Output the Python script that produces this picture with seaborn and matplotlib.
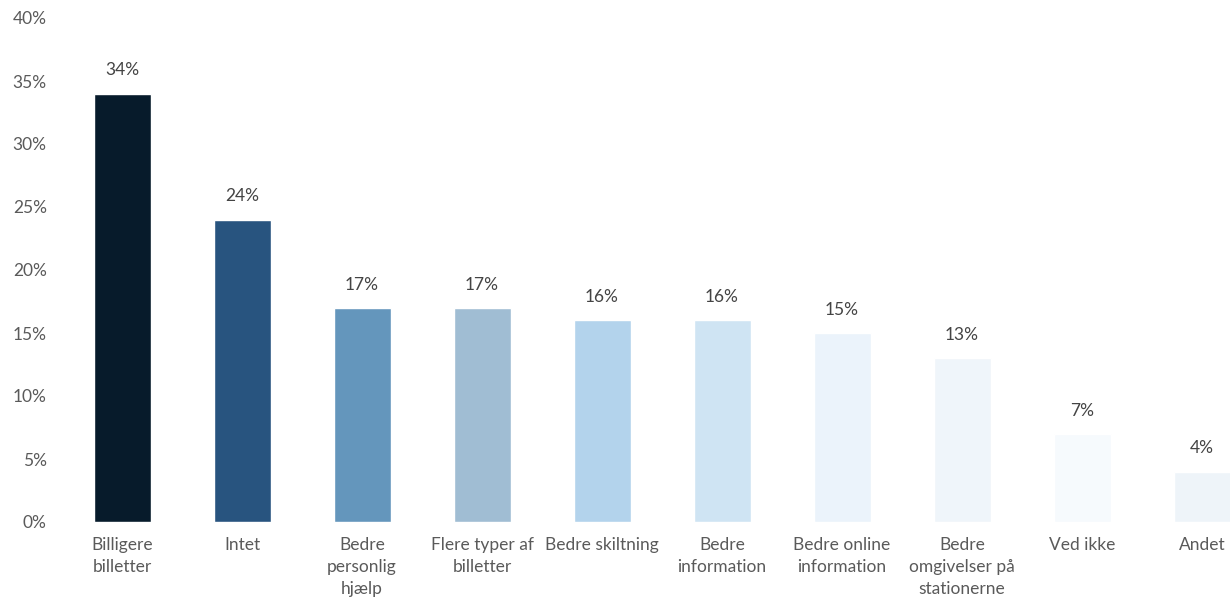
import matplotlib
matplotlib.use("Agg")
import matplotlib.pyplot as plt
import seaborn as sns
import pandas as pd

categories = [
    "Billigere\nbilletter",
    "Intet",
    "Bedre\npersonlig\nhjælp",
    "Flere typer af\nbilletter",
    "Bedre skiltning",
    "Bedre\ninformation",
    "Bedre online\ninformation",
    "Bedre\nomgivelser på\nstationerne",
    "Ved ikke",
    "Andet",
]
values = [34, 24, 17, 17, 16, 16, 15, 13, 7, 4]
bar_colors = [
    "#071b2b", "#28547f", "#6496bc", "#a0bdd3", "#b3d3ec",
    "#cfe4f3", "#ebf3fb", "#eff5fa", "#f6fafd", "#eef4f9",
]
y_ticks = [0, 5, 10, 15, 20, 25, 30, 35, 40]

sns.set_theme(style="white")
plt.rcParams["font.family"] = ["Lato", "DejaVu Sans"]
text_color = "#5a5a5a"

df = pd.DataFrame({"category": categories, "value": values})

fig = plt.figure(figsize=(12.3, 6), dpi=100)
ax = fig.add_axes([62 / 1230, 78 / 600, 1 - 62 / 1230, 504 / 600])

sns.barplot(
    data=df, x="category", y="value", hue="category",
    palette=bar_colors, legend=False, width=0.475, ax=ax,
    saturation=1,
)

for i, v in enumerate(values):
    ax.text(i, v + 1.2, f"{v}%", ha="center", va="bottom",
            fontsize=12.5, color="#444444")

ax.set_ylim(0, 40)
ax.set_xlim(-0.5, 9.233)
ax.set_yticks(y_ticks)
ax.set_yticklabels([f"{t}%" for t in y_ticks])
ax.set_xlabel("")
ax.set_ylabel("")
ax.tick_params(axis="both", length=0, labelsize=12.5, labelcolor=text_color)
ax.tick_params(axis="x", pad=11)
ax.tick_params(axis="y", pad=11)
for lbl in ax.get_xticklabels():
    lbl.set_linespacing(1.45)
    lbl.set_verticalalignment("top")
for s in ax.spines.values():
    s.set_visible(False)

fig.savefig("out.png", dpi=100)
